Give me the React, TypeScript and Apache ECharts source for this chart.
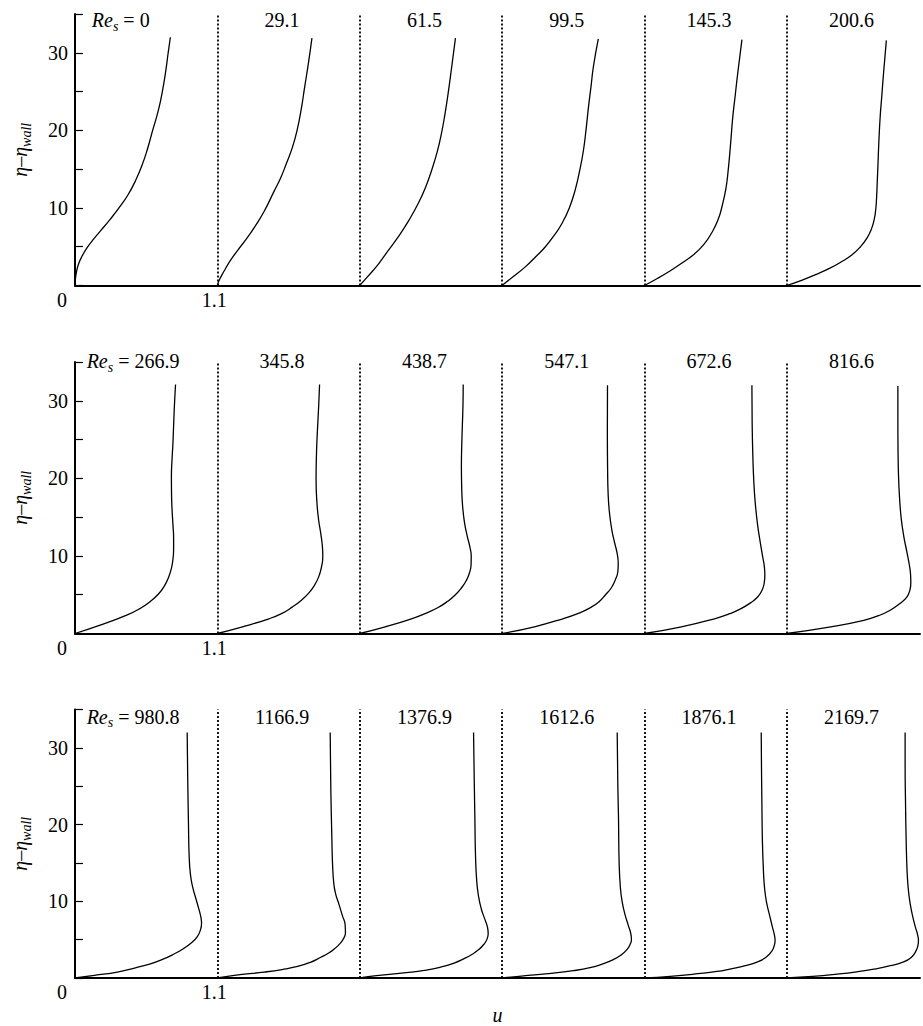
import React, { useEffect, useRef } from 'react';
import * as echarts from 'echarts';

const FONT = 'Liberation Serif';
const SEG = 1.1;
const X_MAX = 6.53;
const Y_MAX = 35;
const GRID_LEFT = 75;
const GRID_TOPS = [14, 362, 709.5];
const GRID_H = 271.5;
const LABEL_DY = [6, -1, 7];
const FIRST_LABEL_U = [0.13, 0.09, 0.09];

// Reynolds numbers (panel labels)
const reRow1 = ['0', '29.1', '61.5', '99.5', '145.3', '200.6'];
const reRow2 = ['266.9', '345.8', '438.7', '547.1', '672.6', '816.6'];
const reRow3 = ['980.8', '1166.9', '1376.9', '1612.6', '1876.1', '2169.7'];

// Velocity profiles [u, eta - eta_wall]
const p0 = [[0, 0], [0.003, 0.8], [0.012, 1.8], [0.028, 2.8], [0.055, 3.8], [0.095, 4.9], [0.145, 6.0], [0.2, 7.1], [0.27, 8.5], [0.34, 10], [0.41, 11.7], [0.47, 13.6], [0.52, 15.6], [0.56, 17.6], [0.6, 20], [0.643, 22.5], [0.675, 25], [0.7, 27.5], [0.72, 30], [0.737, 32]];
const p29 = [[0, 0], [0.015, 0.7], [0.05, 1.8], [0.1, 3.2], [0.16, 4.6], [0.22, 5.9], [0.29, 7.6], [0.36, 9.5], [0.437, 12.1], [0.49, 13.9], [0.535, 15.8], [0.58, 17.8], [0.616, 20], [0.648, 22.7], [0.675, 25.6], [0.705, 28.8], [0.731, 31.9]];
const p61 = [[0, 0], [0.07, 1.3], [0.146, 2.8], [0.22, 4.5], [0.299, 6.3], [0.38, 8.4], [0.453, 10.6], [0.51, 12.7], [0.555, 14.8], [0.6, 17.3], [0.632, 19.6], [0.66, 22.2], [0.683, 24.7], [0.712, 28.3], [0.74, 31.9]];
const p99 = [[0, 0], [0.09, 1.2], [0.18, 2.4], [0.26, 3.7], [0.335, 5], [0.4, 6.4], [0.463, 8], [0.52, 10], [0.565, 12.3], [0.6, 14.8], [0.629, 17.4], [0.65, 20.2], [0.668, 23], [0.688, 25.7], [0.706, 28.2], [0.744, 31.8]];
const p145 = [[0, 0], [0.1, 0.9], [0.21, 2], [0.3, 3], [0.389, 4.1], [0.46, 5.3], [0.517, 6.7], [0.57, 8.5], [0.606, 10.6], [0.63, 12.5], [0.645, 14.4], [0.665, 18], [0.683, 21.7], [0.702, 24.5], [0.721, 27.3], [0.754, 31.7]];
const p200 = [[0, 0], [0.12, 0.7], [0.238, 1.5], [0.33, 2.2], [0.417, 3], [0.5, 3.9], [0.57, 5], [0.62, 6.1], [0.655, 7.3], [0.676, 8.5], [0.688, 9.8], [0.695, 11.5], [0.7, 13.5], [0.705, 15.5], [0.712, 18.5], [0.722, 21.7], [0.735, 24.5], [0.748, 27.3], [0.77, 31.6]];

const p266 = [[0, 0], [0.2, 1.1], [0.404, 2.4], [0.5, 3.2], [0.58, 4.1], [0.645, 5.1], [0.69, 6.1], [0.722, 7.2], [0.745, 8.4], [0.757, 9.6], [0.762, 10.8], [0.762, 12.3], [0.757, 14], [0.75, 16], [0.746, 18], [0.745, 20.3], [0.75, 22.5], [0.757, 24.6], [0.767, 28.9], [0.777, 32.1]];
const p345 = [[0, 0], [0.194, 0.86], [0.399, 1.9], [0.5, 2.6], [0.578, 3.4], [0.65, 4.3], [0.706, 5.2], [0.75, 6.2], [0.783, 7.3], [0.805, 8.6], [0.815, 9.9], [0.812, 11.2], [0.8, 12.8], [0.783, 14.6], [0.77, 16.8], [0.763, 19.8], [0.765, 22.5], [0.77, 25], [0.783, 29.3], [0.79, 32.1]];
const p438 = [[0, 0], [0.197, 0.86], [0.4, 1.9], [0.51, 2.6], [0.606, 3.35], [0.68, 4.15], [0.74, 5.0], [0.787, 5.9], [0.823, 6.8], [0.848, 7.8], [0.861, 8.9], [0.862, 10.0], [0.851, 11.2], [0.832, 12.5], [0.81, 14.3], [0.795, 16.5], [0.788, 19], [0.786, 21.5], [0.79, 25], [0.798, 29.3], [0.8, 32.1]];
const p547 = [[0, 0], [0.25, 0.86], [0.47, 1.9], [0.59, 2.6], [0.68, 3.3], [0.75, 4.1], [0.8, 5], [0.845, 5.9], [0.875, 6.9], [0.895, 8.0], [0.898, 9.0], [0.89, 10.3], [0.87, 11.7], [0.848, 13.4], [0.83, 15.6], [0.82, 18], [0.816, 21], [0.814, 26], [0.815, 32]];
const p672 = [[0, 0], [0.286, 0.86], [0.542, 1.9], [0.66, 2.55], [0.747, 3.2], [0.82, 3.95], [0.875, 4.7], [0.91, 5.6], [0.926, 6.5], [0.931, 7.5], [0.928, 8.5], [0.913, 10], [0.895, 11.8], [0.875, 14], [0.857, 16.8], [0.846, 19.5], [0.838, 23], [0.833, 27], [0.831, 32]];
const p816 = [[0, 0], [0.34, 0.86], [0.596, 1.7], [0.71, 2.3], [0.8, 3], [0.87, 3.8], [0.928, 4.7], [0.952, 5.6], [0.959, 6.5], [0.957, 7.6], [0.948, 8.8], [0.93, 10.4], [0.905, 12.5], [0.885, 14.8], [0.872, 17.5], [0.864, 20.3], [0.86, 24], [0.859, 28], [0.859, 31.9]];

const p980 = [[0, 0], [0.15, 0.35], [0.327, 0.77], [0.46, 1.3], [0.583, 1.85], [0.68, 2.45], [0.762, 3.1], [0.84, 3.85], [0.9, 4.6], [0.945, 5.4], [0.97, 6.3], [0.978, 7.1], [0.972, 8], [0.955, 9.1], [0.935, 10.3], [0.91, 11.8], [0.892, 13.5], [0.882, 16], [0.877, 20], [0.872, 25], [0.869, 29], [0.867, 32]];
const p1166 = [[0, 0], [0.131, 0.34], [0.362, 0.77], [0.5, 1.1], [0.62, 1.5], [0.72, 2.05], [0.8, 2.7], [0.86, 3.25], [0.905, 3.8], [0.94, 4.35], [0.967, 4.9], [0.983, 5.4], [0.99, 5.9], [0.987, 7], [0.967, 8.1], [0.94, 9.6], [0.915, 10.9], [0.9, 12.3], [0.89, 15], [0.885, 18.2], [0.877, 24.6], [0.872, 32]];
const p1376 = [[0, 0], [0.13, 0.3], [0.36, 0.7], [0.5, 1.0], [0.62, 1.4], [0.73, 1.95], [0.81, 2.55], [0.87, 3.1], [0.92, 3.7], [0.96, 4.4], [0.985, 5.1], [0.993, 5.8], [0.985, 6.8], [0.964, 7.8], [0.94, 9], [0.92, 10.5], [0.905, 12.5], [0.895, 16], [0.89, 21], [0.885, 26], [0.88, 32]];
const p1612 = [[0, 0], [0.15, 0.25], [0.38, 0.6], [0.55, 0.95], [0.68, 1.35], [0.78, 1.85], [0.86, 2.4], [0.92, 3.0], [0.965, 3.7], [0.99, 4.4], [1.0, 5.0], [0.995, 5.8], [0.975, 6.9], [0.95, 8.3], [0.93, 9.8], [0.915, 11.7], [0.905, 15], [0.9, 21], [0.895, 25], [0.89, 32]];
const p1876 = [[0, 0], [0.2, 0.22], [0.414, 0.56], [0.56, 0.85], [0.67, 1.2], [0.78, 1.6], [0.875, 2.1], [0.94, 2.7], [0.985, 3.5], [1.005, 4.3], [1.01, 4.9], [1.005, 5.6], [0.99, 6.6], [0.97, 8], [0.945, 9.8], [0.93, 11.5], [0.92, 14], [0.912, 18], [0.908, 23], [0.905, 27.6], [0.903, 32]];
const p2169 = [[0, 0], [0.2, 0.2], [0.391, 0.5], [0.54, 0.8], [0.673, 1.15], [0.8, 1.6], [0.903, 2.1], [0.96, 2.65], [0.995, 3.4], [1.012, 4.1], [1.018, 4.85], [1.012, 5.6], [0.995, 6.6], [0.974, 8], [0.955, 9.6], [0.94, 11.5], [0.93, 14], [0.923, 18], [0.918, 23], [0.915, 27.6], [0.915, 32]];

const rows = [
  { labels: reRow1, profiles: [p0, p29, p61, p99, p145, p200] },
  { labels: reRow2, profiles: [p266, p345, p438, p547, p672, p816] },
  { labels: reRow3, profiles: [p980, p1166, p1376, p1612, p1876, p2169] },
];

const subRich = {
  i: { fontFamily: FONT, fontSize: 20, fontStyle: 'italic', color: '#000', fill: '#000' },
  s: { fontFamily: FONT, fontSize: 14, fontStyle: 'italic', color: '#000', fill: '#000', padding: [12, 0, 0, 0] },
  n: { fontFamily: FONT, fontSize: 20, color: '#000', fill: '#000' },
};

export default function App() {
  const ref = useRef<HTMLDivElement>(null);
  useEffect(() => {
    if (!ref.current) return;
    const chart = echarts.init(ref.current, undefined, { renderer: 'svg' });
    const grids = GRID_TOPS.map((t) => ({ left: GRID_LEFT, top: t, width: 923 - GRID_LEFT, height: GRID_H }));
    const xAxes = rows.map((_, r) => ({
      type: 'value', gridIndex: r, min: 0, max: X_MAX, interval: SEG,
      axisLine: { show: true, lineStyle: { color: '#000', width: 2 } },
      axisTick: { show: false }, splitLine: { show: false },
      axisLabel: {
        margin: 4, fontFamily: FONT, fontSize: 20, color: '#000',
        formatter: (v: number) => (Math.abs(v) < 1e-6 ? '{z|0}' : Math.abs(v - SEG) < 1e-6 ? '{o|1.1}' : ''),
        rich: {
          z: { fontFamily: FONT, fontSize: 20, color: '#000', padding: [0, 26, 0, 0] },
          o: { fontFamily: FONT, fontSize: 20, color: '#000', padding: [0, 6, 0, 0] },
        },
      },
      name: r === 2 ? 'u' : '',
      nameLocation: 'middle', nameGap: 27,
      nameTextStyle: { fontFamily: FONT, fontSize: 20, fontStyle: 'italic', color: '#000' },
    }));
    const yAxes = rows.map((_, r) => ({
      type: 'value', gridIndex: r, min: 0, max: Y_MAX, interval: 5,
      axisLine: { show: true, lineStyle: { color: '#000', width: 2 } },
      axisTick: { show: true, inside: true, length: 8, lineStyle: { color: '#000', width: 1.2 } },
      splitLine: { show: false },
      axisLabel: {
        margin: 7, fontFamily: FONT, fontSize: 20, color: '#000',
        formatter: (v: number) => (v === 10 || v === 20 || v === 30 ? String(v) : ''),
      },
      name: '{a|η–η}{b|wall}', nameLocation: 'middle', nameRotate: 90, nameGap: 42,
      nameTextStyle: {
        fontFamily: FONT, fontSize: 20, fontStyle: 'italic', color: '#000',
        rich: {
          a: { fontFamily: FONT, fontSize: 20, fontStyle: 'italic', color: '#000' },
          b: { fontFamily: FONT, fontSize: 14, fontStyle: 'italic', color: '#000', padding: [12, 0, 0, 0] },
        },
      },
    }));
    const series: any[] = [];
    rows.forEach((row, r) => {
      row.profiles.forEach((prof, k) => {
        series.push({
          type: 'line', xAxisIndex: r, yAxisIndex: r,
          data: prof.map(([u, y]) => [u + k * SEG, y]),
          symbol: 'none', smooth: 0.5, silent: true,
          lineStyle: { color: '#000', width: 1.3 },
          markLine: k === 0 ? {
            silent: true, symbol: ['none', 'none'], label: { show: false },
            lineStyle: { color: '#000', type: [2, 2], width: 1.8 },
            data: [1, 2, 3, 4, 5].map((j) => ({ xAxis: j * SEG })),
          } : undefined,
        });
      });
    });
    chart.setOption({
      animation: false,
      backgroundColor: '#fff',
      textStyle: { fontFamily: FONT },
      grid: grids, xAxis: xAxes, yAxis: yAxes, series,
    });
    const graphic: any[] = [];
    rows.forEach((row, r) => {
      row.labels.forEach((lab, k) => {
        const u = k === 0 ? FIRST_LABEL_U[r] : k * SEG + 0.5;
        const pt = chart.convertToPixel({ gridIndex: r } as any, [u, Y_MAX]) as number[];
        graphic.push({
          type: 'text', x: pt[0], y: pt[1] + LABEL_DY[r], silent: true,
          style: {
            text: k === 0 ? `{i|Re}{s|s}{n| = ${lab}}` : lab,
            rich: subRich,
            fontFamily: FONT, fontSize: 20, fill: '#000',
            align: k === 0 ? 'left' : 'center', verticalAlign: 'middle',
          },
        });
      });
    });
    chart.setOption({ graphic });
    return () => chart.dispose();
  }, []);
  return <div ref={ref} style={{ position: 'absolute', left: 0, top: 0, width: 923, height: 1026, background: '#fff' }} />;
}
